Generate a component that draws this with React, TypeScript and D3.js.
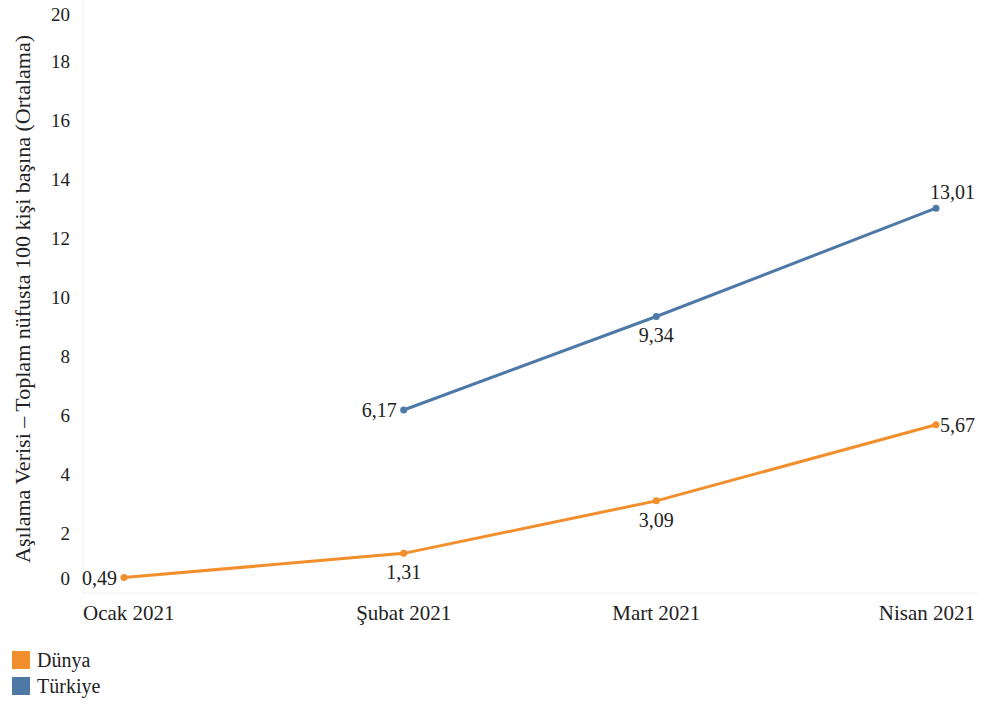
import React from "react";
import * as d3 from "d3";

const months = ["2021-01-01", "2021-02-01", "2021-03-01", "2021-04-01"];
const monthLabels = ["Ocak 2021", "Şubat 2021", "Mart 2021", "Nisan 2021"];
const dunyaValues = [0.49, 1.31, 3.09, 5.67];
const turkiyeMonths = ["2021-02-01", "2021-03-01", "2021-04-01"];
const turkiyeValues = [6.17, 9.34, 13.01];
const yTicks = [0, 2, 4, 6, 8, 10, 12, 14, 16, 18, 20];
const yTitle = "Aşılama Verisi – Toplam nüfusta 100 kişi başına (Ortalama)";
const seriesNames = ["Dünya", "Türkiye"];

const dunyaLabelPos = ["left", "below", "below", "right"];
const turkiyeLabelPos = ["left", "below", "above"];

const W = 984;
const H = 704;
const FONT = "Liberation Serif, DejaVu Serif, Times New Roman, serif";
const ORANGE = "#f28e2b";
const BLUE = "#4e79a7";
const TEXT = "#222";

const parse = d3.timeParse("%Y-%m-%d");

export default function App() {
  const x = d3
    .scaleTime()
    .domain([parse(months[0])!, parse(months[3])!])
    .range([124, 936]);
  const y = d3.scaleLinear().domain([0, 20]).range([592, 2]);

  const dunya = months.map((m, i) => ({ d: parse(m)!, v: dunyaValues[i], pos: dunyaLabelPos[i] }));
  const turkiye = turkiyeMonths.map((m, i) => ({ d: parse(m)!, v: turkiyeValues[i], pos: turkiyeLabelPos[i] }));

  const line = d3
    .line<{ d: Date; v: number }>()
    .x((p) => x(p.d))
    .y((p) => y(p.v));

  const fmt = (v: number) => v.toFixed(2).replace(".", ",");

  const labelProps = (p: { d: Date; v: number; pos: string }) => {
    const px = x(p.d);
    const py = y(p.v);
    switch (p.pos) {
      case "left":
        return { x: px - 7, y: py, anchor: "end" };
      case "right":
        return { x: px + 4, y: py, anchor: "start" };
      case "above":
        return { x: px - 6, y: py - 16, anchor: "start" };
      default:
        return { x: px, y: py + 19, anchor: "middle" };
    }
  };

  const xLabelX = (i: number) => {
    const c = x(parse(months[i])!);
    if (i === 0) return { x: 83, anchor: "start" };
    if (i === months.length - 1) return { x: 975, anchor: "end" };
    return { x: c, anchor: "middle" };
  };

  const series = [
    { data: dunya, color: ORANGE },
    { data: turkiye, color: BLUE },
  ];

  const ts = { fontFamily: FONT };

  return (
    <svg
      width={W}
      height={H}
      style={{ position: "absolute", left: 0, top: 0, background: "#fff", fontFamily: FONT }}
    >
      <rect x={0} y={0} width={W} height={H} fill="#fff" />
      <line x1={83} x2={83} y1={0} y2={593} stroke="#f0f0f0" strokeWidth={1} />
      <line x1={83} x2={978} y1={593} y2={593} stroke="#f0f0f0" strokeWidth={1} />

      {yTicks.map((t) => (
        <text
          key={t}
          x={70}
          y={Math.min(578, Math.max(14, y(t)))}
          textAnchor="end"
          dominantBaseline="central"
          fontSize={19}
          fill={TEXT}
          style={ts}
        >
          {t}
        </text>
      ))}

      <text
        transform={`translate(22,299) rotate(-90)`}
        textAnchor="middle"
        dominantBaseline="central"
        fontSize={22}
        fill={TEXT}
        style={ts}
      >
        {yTitle}
      </text>

      {monthLabels.map((l, i) => {
        const p = xLabelX(i);
        return (
          <text
            key={l}
            x={p.x}
            y={613}
            textAnchor={p.anchor as any}
            dominantBaseline="central"
            fontSize={21}
            fill={TEXT}
            style={ts}
          >
            {l}
          </text>
        );
      })}

      {series.map((s, si) => (
        <g key={si}>
          <path d={line(s.data) || ""} fill="none" stroke={s.color} strokeWidth={3} />
          {s.data.map((p, i) => (
            <circle key={i} cx={x(p.d)} cy={y(p.v)} r={3.5} fill={s.color} />
          ))}
          {s.data.map((p, i) => {
            const lp = labelProps(p);
            return (
              <text
                key={"l" + i}
                x={lp.x}
                y={lp.y}
                textAnchor={lp.anchor as any}
                dominantBaseline="central"
                fontSize={20}
                fill={TEXT}
                style={ts}
              >
                {fmt(p.v)}
              </text>
            );
          })}
        </g>
      ))}

      {seriesNames.map((n, i) => (
        <g key={n} transform={`translate(12,${651 + i * 26})`}>
          <rect x={0} y={0} width={18} height={18} fill={i === 0 ? ORANGE : BLUE} />
          <text x={25} y={9} dominantBaseline="central" fontSize={20} fill={TEXT} style={ts}>
            {n}
          </text>
        </g>
      ))}
    </svg>
  );
}
